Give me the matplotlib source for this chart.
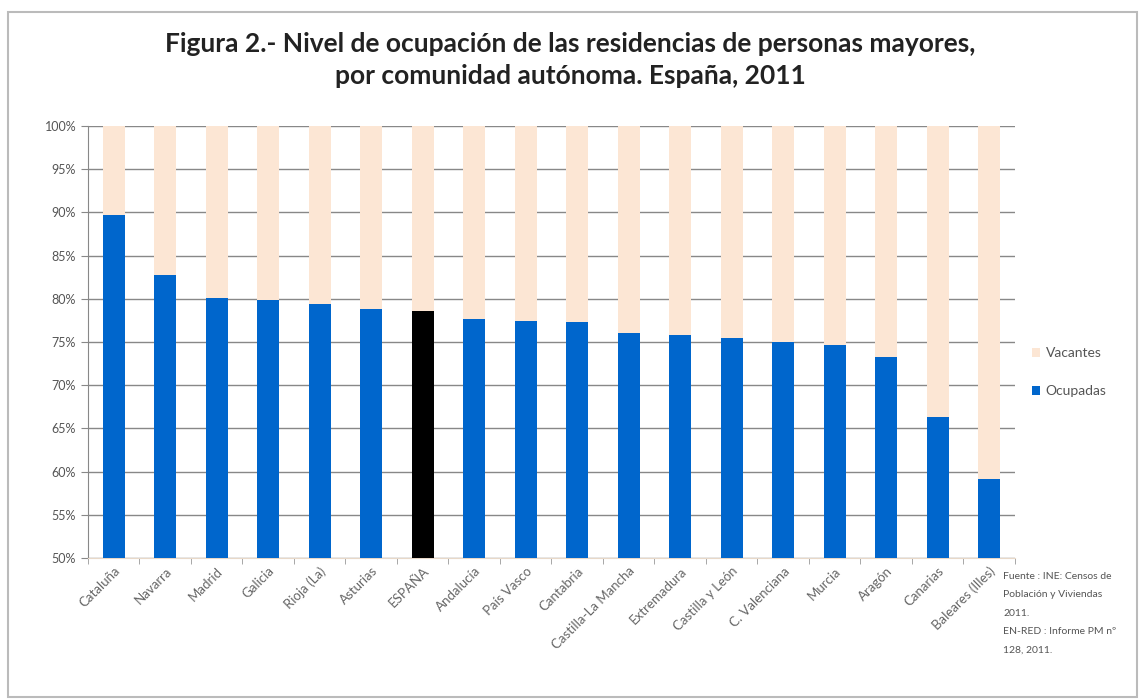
import matplotlib.pyplot as plt
import numpy as np

comunidades = ["Cataluña", "Navarra", "Madrid", "Galicia", "Rioja (La)", "Asturias",
               "ESPAÑA", "Andalucía", "País Vasco", "Cantabria", "Castilla-La Mancha",
               "Extremadura", "Castilla y León", "C. Valenciana", "Murcia", "Aragón",
               "Canarias", "Baleares (Illes)"]
ocupadas = [89.7, 82.8, 80.1, 79.9, 79.4, 78.8, 78.6, 77.6, 77.4, 77.3, 76.0, 75.8,
            75.5, 75.0, 74.6, 73.2, 66.3, 59.1]
vacantes = [100 - v for v in ocupadas]
yticks = list(range(50, 101, 5))

plt.rcParams['font.family'] = ['Lato', 'DejaVu Sans']

fig = plt.figure(figsize=(11.4, 7), dpi=100)
ax = fig.add_axes([0.0772, 0.203, 0.813, 0.617])

x = np.arange(len(comunidades))
colores = ["black" if c == "ESPAÑA" else "#0066CC" for c in comunidades]
ax.bar(x, ocupadas, width=0.43, color=colores, zorder=3, label="Ocupadas")
ax.bar(x, vacantes, width=0.43, bottom=ocupadas, color="#FCE6D4", zorder=3, label="Vacantes")

ax.set_ylim(50, 100)
ax.set_xlim(-0.5, len(comunidades) - 0.5)
ax.set_yticks(yticks)
ax.set_yticklabels([f"{t}%" for t in yticks], fontsize=9, color="#555555")
ax.yaxis.grid(True, color="#888888", linewidth=1, zorder=0)
ax.tick_params(axis="y", length=5, color="#888888", direction="out")

ax.set_xticks(x)
ax.set_xticklabels(comunidades, rotation=45, ha="right", rotation_mode="anchor",
                   fontsize=9.5, color="#666666")
ax.tick_params(axis="x", length=0, pad=5)
ax.set_xticks(np.arange(-0.5, len(comunidades), 1), minor=True)
ax.tick_params(axis="x", which="minor", length=4, color="#999999")

for s in ["top", "right"]:
    ax.spines[s].set_visible(False)
ax.spines["left"].set_color("#888888")
ax.spines["bottom"].set_color("#E8D8C8")

h, l = ax.get_legend_handles_labels()
ax.legend(h[::-1], l[::-1], loc="center left", bbox_to_anchor=(1.005, 0.43),
          frameon=False, fontsize=10, labelcolor="#555555",
          handlelength=0.6, handleheight=0.6, handletextpad=0.4, labelspacing=1.9)

fig.suptitle("Figura 2.- Nivel de ocupación de las residencias de personas mayores,\n"
             "por comunidad autónoma. España, 2011",
             y=0.955, fontsize=19, fontweight="bold", color="#222222", linespacing=1.45)

fig.text(0.880, 0.183, "Fuente : INE: Censos de\nPoblación y Viviendas\n2011.\n"
         "EN-RED : Informe PM nº\n128, 2011.",
         fontsize=7.5, color="#555555", va="top", ha="left", linespacing=2.35)

fig.patches.append(plt.Rectangle((0.007, 0.005), 0.99, 0.978, transform=fig.transFigure,
                                 fill=False, edgecolor="#BBBBBB", linewidth=1.5))

fig.savefig("out.png", dpi=100)
